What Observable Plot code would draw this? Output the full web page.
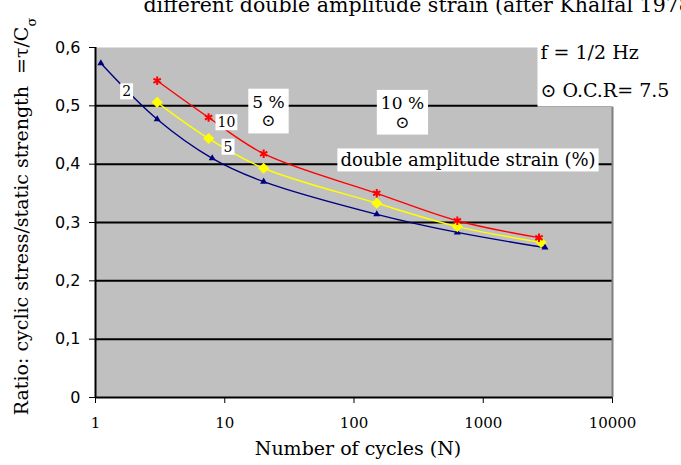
<!DOCTYPE html>
<html>
<head>
<meta charset="utf-8">
<script src="https://cdn.jsdelivr.net/npm/d3@7"></script>
<script src="https://cdn.jsdelivr.net/npm/@observablehq/plot@0.6"></script>
<style>
  body { margin: 0; background: #fff; }
  #chart { width: 681px; height: 465px; overflow: hidden; position: relative; }
</style>
</head>
<body>
<div id="chart"></div>
<script>
// Cyclic stress ratio versus number of cycles, one curve per double amplitude strain
const strainSeries = ["2", "5", "10"];
const seriesColors = ["#000080", "#ffff00", "#ff0000"];

const cycles2 = [1.1, 3, 8, 20, 150, 630, 3000];
const ratio2 = [0.573, 0.477, 0.41, 0.37, 0.314, 0.283, 0.257];

const cycles5 = [3, 7.5, 20, 150, 630, 2800];
const ratio5 = [0.506, 0.444, 0.393, 0.333, 0.293, 0.266];

const cycles10 = [3, 7.5, 20, 150, 630, 2700];
const ratio10 = [0.543, 0.48, 0.418, 0.35, 0.303, 0.274];

const xTicks = [1, 10, 100, 1000, 10000];
const xTickLabels = ["1", "10", "100", "1000", "10000"];
const yTicks = [0, 0.1, 0.2, 0.3, 0.4, 0.5, 0.6];
const yTickLabels = ["0", "0,1", "0,2", "0,3", "0,4", "0,5", "0,6"];
const gridLevels = [0.1, 0.2, 0.3, 0.4, 0.5];

// curve tags placed next to each line
const tagText = ["2", "10", "5"];
const tagCycles = [1.74, 10.3, 10.6];
const tagRatio = [0.524, 0.471, 0.429];

// boxed notes inside the plot
const noteText = ["5 %\n\u2299", "10 %\n\u2299"];
const noteCycles = [21.8, 237];
const noteRatio = [0.491, 0.489];
const strainNote = "double amplitude strain (%)";
const strainNoteCycles = 762;
const strainNoteRatio = 0.406;

const titleText = "different double amplitude strain (after Khalfal 1978";
const xTitle = "Number of cycles (N)";
const yTitle = "Ratio: cyclic stress/static strength  =\u03c4/C";
const yTitleSub = "\u03c3";
const freqText = "f = 1/2 Hz";
const ocrText = "\u2299 O.C.R= 7.5";

// long table built from the arrays above
const rows = [];
[[cycles2, ratio2], [cycles5, ratio5], [cycles10, ratio10]].forEach(([cs, rs], i) => {
  cs.forEach((c, j) => rows.push({series: strainSeries[i], cycles: c, ratio: rs[j]}));
});
const bySeries = s => rows.filter(d => d.series === s);
const tags = tagText.map((t, i) => ({text: t, cycles: tagCycles[i], ratio: tagRatio[i]}));
const notes = noteText.map((t, i) => ({text: t, cycles: noteCycles[i], ratio: noteRatio[i]}));

const serif = "'DejaVu Serif', serif";

const chart = Plot.plot({
  width: 681,
  height: 465,
  marginLeft: 95,
  marginRight: 69,
  marginTop: 47,
  marginBottom: 68,
  style: {background: "white", color: "black", fontFamily: serif, fontSize: "14px", overflow: "visible"},
  x: {type: "log", domain: [1, 10000], ticks: xTicks,
      tickFormat: d => xTickLabels[xTicks.indexOf(d)], tickSize: 6, tickPadding: 14, label: null},
  y: {domain: [0, 0.6], ticks: yTicks,
      tickFormat: d => yTickLabels[yTicks.indexOf(d)], tickSize: 6, tickPadding: 9, label: null},
  color: {domain: strainSeries, range: seriesColors},
  marks: [
    Plot.frame({fill: "#c0c0c0", stroke: null}),
    Plot.ruleY(gridLevels, {stroke: "black", strokeWidth: 2}),
    Plot.ruleX([10000], {stroke: "#808080", strokeWidth: 2}),
    Plot.ruleX([1], {stroke: "black", strokeWidth: 2}),
    Plot.ruleY([0], {stroke: "black", strokeWidth: 2}),
    ...strainSeries.map(s => Plot.line(bySeries(s), {
      x: "cycles", y: "ratio", stroke: "series", strokeWidth: 1.4, curve: "catmull-rom"
    })),
    Plot.dot(bySeries("2"), {x: "cycles", y: "ratio", symbol: "triangle", r: 2.6, fill: "series", stroke: null}),
    Plot.dot(bySeries("5"), {x: "cycles", y: "ratio", symbol: "diamond2", r: 5, fill: "series", stroke: null}),
    Plot.dot(bySeries("10"), {x: "cycles", y: "ratio", symbol: "asterisk", r: 4, stroke: "series", strokeWidth: 2}),
    // white-boxed labels (boxes are added behind the text after rendering)
    Plot.text(tags, {x: "cycles", y: "ratio", text: "text", fontSize: 14, fill: "black", className: "boxed-tag"}),
    Plot.text(notes, {x: "cycles", y: "ratio", text: "text", fontSize: 17, lineHeight: 1.1, fill: "black", className: "boxed-note"}),
    Plot.text([strainNote], {x: () => strainNoteCycles, y: () => strainNoteRatio, fontSize: 18, fill: "black", className: "boxed-strain"}),
    // conditions in the top-right corner
    Plot.text([freqText], {frameAnchor: "top-right", dx: -72, dy: 5, textAnchor: "start", lineAnchor: "middle", fontSize: 19, className: "corner-note"}),
    Plot.text([ocrText], {frameAnchor: "top-right", dx: -72, dy: 43, textAnchor: "start", lineAnchor: "middle", fontSize: 19, className: "corner-note"}),
    // title and axis titles
    Plot.text([titleText], {frameAnchor: "top-left", dx: 48, dy: -36, textAnchor: "start", lineAnchor: "bottom", fontSize: 20.5}),
    Plot.text([xTitle], {frameAnchor: "bottom", dx: 4, dy: 57, textAnchor: "middle", lineAnchor: "bottom", fontSize: 19}),
    Plot.text([yTitle], {frameAnchor: "left", dx: -74, dy: -6, rotate: -90, textAnchor: "middle", lineAnchor: "middle", fontSize: 19, className: "y-title"})
  ]
});

document.getElementById("chart").appendChild(chart);

// axis fonts: serif numbers under the x axis, sans numbers beside the y axis
chart.querySelectorAll('[aria-label^="x-axis"]').forEach(g => {
  g.setAttribute("font-family", serif);
  g.style.fontFamily = serif;
  g.style.fontSize = "15px";
});
chart.querySelectorAll('[aria-label^="y-axis"]').forEach(g => {
  g.setAttribute("font-family", "'DejaVu Sans', sans-serif");
  g.style.fontFamily = "'DejaVu Sans', sans-serif";
  g.style.fontSize = "16px";
});

// subscript sigma at the end of the y title
d3.select(chart).selectAll(".y-title text").each(function() {
  d3.select(this).append("tspan").attr("baseline-shift", "sub").attr("font-size", "13px").text(yTitleSub);
});

// white boxes behind labelled notes
function boxBehind(selector, padX, padY) {
  d3.select(chart).selectAll(selector + " text").each(function() {
    const bb = this.getBBox();
    const r = document.createElementNS("http://www.w3.org/2000/svg", "rect");
    r.setAttribute("x", bb.x - padX);
    r.setAttribute("y", bb.y - padY);
    r.setAttribute("width", bb.width + 2 * padX);
    r.setAttribute("height", bb.height + 2 * padY);
    r.setAttribute("fill", "white");
    const tr = this.getAttribute("transform");
    if (tr) r.setAttribute("transform", tr);
    this.parentNode.insertBefore(r, this);
  });
}
boxBehind(".boxed-tag", 2, 0);
boxBehind(".boxed-note", 4, 3);
boxBehind(".boxed-strain", 3, 1);

// corner panel covering the top-right of the plot
(function() {
  const texts = chart.querySelectorAll(".corner-note text");
  if (!texts.length) return;
  let x0 = Infinity, y0 = Infinity, y1 = -Infinity;
  const s = chart.getBoundingClientRect();
  texts.forEach(t => {
    const b = t.getBoundingClientRect();
    x0 = Math.min(x0, b.left - s.left);
    y0 = Math.min(y0, b.top - s.top);
    y1 = Math.max(y1, b.bottom - s.top);
  });
  const r = document.createElementNS("http://www.w3.org/2000/svg", "rect");
  r.setAttribute("x", x0 - 3);
  r.setAttribute("y", y0 - 8);
  r.setAttribute("width", 681 - x0 + 3);
  r.setAttribute("height", y1 - y0 + 14);
  r.setAttribute("fill", "white");
  const first = chart.querySelector(".corner-note");
  first.parentNode.insertBefore(r, first);
})();
</script>
</body>
</html>
